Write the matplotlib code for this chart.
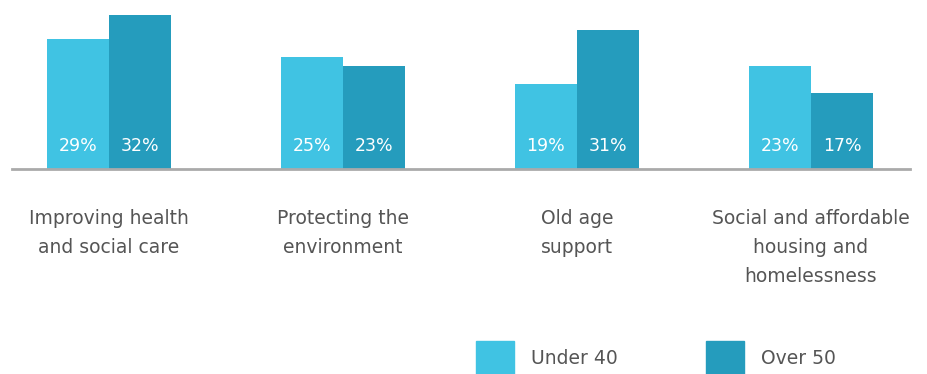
import matplotlib
matplotlib.use("Agg")
import matplotlib.pyplot as plt
from matplotlib.patches import Rectangle
from matplotlib.transforms import blended_transform_factory
import numpy as np

categories = ["Improving health\nand social care", "Protecting the\nenvironment",
              "Old age\nsupport", "Social and affordable\nhousing and\nhomelessness"]
series_names = ["Under 40", "Over 50"]
# bar heights as drawn in the reference (percent scale)
under40_heights = [29, 25, 19, 23]
over50_heights = [34.2, 23, 31, 17]
# printed labels
under40_labels = ["29%", "25%", "19%", "23%"]
over50_labels = ["32%", "23%", "31%", "17%"]
colors = ["#40C3E3", "#259CBD"]
text_gray = "#555555"

W, H = 928, 374
fig = plt.figure(figsize=(W / 100, H / 100), dpi=100)
ax_left, ax_right, base_y = 12, 910, 169
ax = fig.add_axes([ax_left / W, (H - base_y) / H, (ax_right - ax_left) / W, base_y / H])

x = np.arange(len(categories))
bw = 62 / 234
ax.bar(x - bw / 2, under40_heights, width=bw, color=colors[0], zorder=2)
ax.bar(x + bw / 2, over50_heights, width=bw, color=colors[1], zorder=2)
ax.set_xlim((ax_left - 109) / 234, (ax_right - 109) / 234)
ax.set_ylim(0, base_y / 4.5)

for i in range(len(categories)):
    ax.text(x[i] - bw / 2, 5.1, under40_labels[i], color="white", ha="center", va="center",
            fontsize=12.5, zorder=3)
    ax.text(x[i] + bw / 2, 5.1, over50_labels[i], color="white", ha="center", va="center",
            fontsize=12.5, zorder=3)

ax.axhline(0, color="#AAAAAA", lw=2.0, zorder=3, clip_on=False)
for s in ax.spines.values():
    s.set_visible(False)
ax.set_xticks([])
ax.set_yticks([])

trans = blended_transform_factory(ax.transData, ax.transAxes)
for i, c in enumerate(categories):
    ax.text(x[i], -40 / base_y, c, transform=trans, ha="center", va="top",
            fontsize=13.5, color=text_gray, linespacing=1.68)

# legend
for k, (name, col, lx) in enumerate(zip(series_names, colors, [476, 706])):
    fig.patches.append(Rectangle((lx / W, 0), 38 / W, 33 / H, transform=fig.transFigure,
                                 color=col, figure=fig))
    fig.text((lx + 55) / W, (H - 359) / H, name, ha="left", va="center",
             fontsize=13.5, color=text_gray)

fig.savefig("out.png", dpi=100)
